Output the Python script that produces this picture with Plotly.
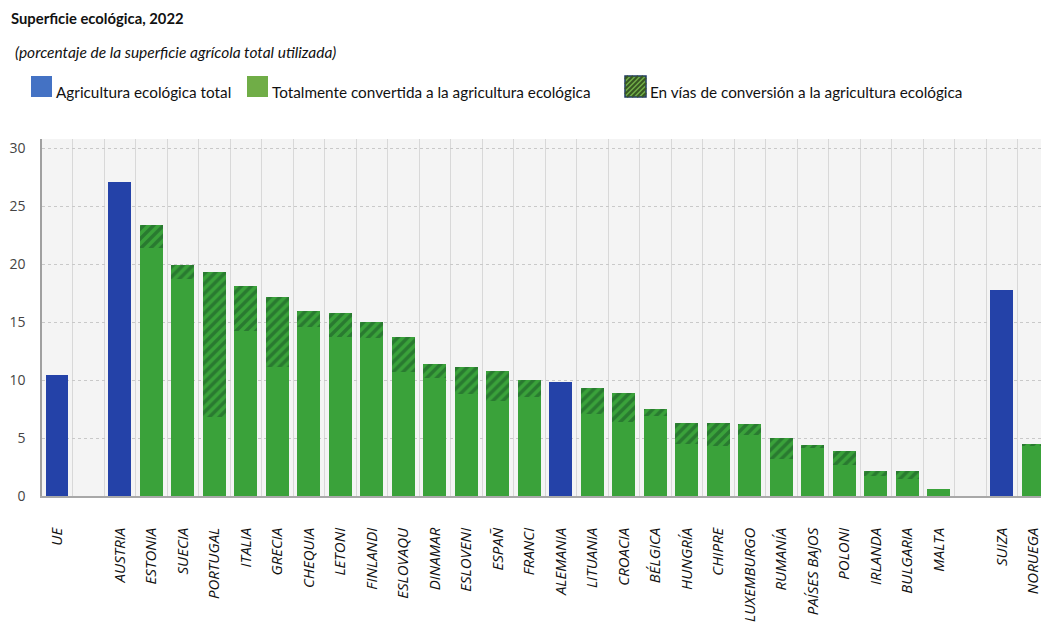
import plotly.graph_objects as go

# ---------------- data ----------------
countries = ["UE", "", "AUSTRIA", "ESTONIA", "SUECIA", "PORTUGAL", "ITALIA", "GRECIA",
             "CHEQUIA", "LETONI", "FINLANDI", "ESLOVAQU", "DINAMAR", "ESLOVENI", "ESPAÑ",
             "FRANCI", "ALEMANIA", "LITUANIA", "CROACIA", "BÉLGICA", "HUNGRÍA", "CHIPRE",
             "LUXEMBURGO", "RUMANÍA", "PAÍSES BAJOS", "POLONI", "IRLANDA", "BULGARIA",
             "MALTA", " ", "SUIZA", "NORUEGA"]

# total organic area (blue bars only)
total_organic = [10.4, None, 27.1, None, None, None, None, None,
                 None, None, None, None, None, None, None,
                 None, 9.8, None, None, None, None, None,
                 None, None, None, None, None, None,
                 None, None, 17.8, None]

# fully converted area
fully_converted = [None, None, None, 21.4, 18.7, 6.8, 14.2, 11.1,
                   14.6, 13.7, 13.6, 10.7, 10.2, 8.8, 8.2,
                   8.5, None, 7.1, 6.4, 6.9, 4.5, 4.3,
                   5.3, 3.2, 4.1, 2.7, 1.7, 1.5,
                   0.6, None, None, 4.3]

# under conversion area
in_conversion = [None, None, None, 2.0, 1.2, 12.5, 3.9, 6.1,
                 1.4, 2.1, 1.4, 3.0, 1.2, 2.3, 2.6,
                 1.5, None, 2.2, 2.5, 0.6, 1.8, 2.0,
                 0.9, 1.8, 0.3, 1.2, 0.5, 0.7,
                 0.0, None, None, 0.2]

title = "Superficie ecológica, 2022"
subtitle = "(porcentaje de la superficie agrícola total utilizada)"
legend_labels = ["Agricultura ecológica total",
                 "Totalmente convertida a la agricultura ecológica",
                 "En vías de conversión a la agricultura ecológica"]
y_ticks = [0, 5, 10, 15, 20, 25, 30]

# ---------------- styling ----------------
BLUE = "#2442a8"
GREEN = "#3aa23a"
HATCH = "#175226"
W, H = 1041, 626
ML, MR, MT, MB = 42, 0, 139, 130
PW, PH = W - ML - MR, H - MT - MB

positions = list(range(len(countries)))
bar_w = 0.73

fig = go.Figure()
fig.add_trace(go.Bar(x=positions, y=total_organic, width=bar_w, marker_color=BLUE,
                     marker_line_width=0, name=legend_labels[0]))
fig.add_trace(go.Bar(x=positions, y=fully_converted, width=bar_w, marker_color=GREEN,
                     marker_line_width=0, name=legend_labels[1]))
fig.add_trace(go.Bar(x=positions, y=in_conversion, width=bar_w,
                     marker=dict(color=GREEN, line_width=0,
                                 pattern=dict(shape="/", fgcolor=HATCH, bgcolor=GREEN,
                                              size=7, solidity=0.5)),
                     name=legend_labels[2]))


def px_x(px):
    return (px - ML) / PW


def px_y(py):
    return (H - MB - py) / PH


shapes = []
annotations = []

# title & subtitle
annotations.append(dict(text="<b>" + title + "</b>", x=px_x(9), y=px_y(18), xref="paper", yref="paper",
                        xanchor="left", yanchor="middle", showarrow=False,
                        font=dict(family="Lato", size=14.8, color="#111")))
annotations.append(dict(text="<i>" + subtitle + "</i>", x=px_x(13), y=px_y(52), xref="paper", yref="paper",
                        xanchor="left", yanchor="middle", showarrow=False,
                        font=dict(family="Lato", size=15.5, color="#111")))

# legend
legend_items = [(31, "#4472c4", False), (247, "#70ad47", False), (625, "#70ad47", True)]
for (x0, col, hatched), lab in zip(legend_items, legend_labels):
    y0, s = 76, 21
    shapes.append(dict(type="rect", xref="paper", yref="paper",
                       x0=px_x(x0), x1=px_x(x0 + s), y0=px_y(y0 + s), y1=px_y(y0),
                       fillcolor=col, line=dict(color="#1f3864" if hatched else col, width=1.5 if hatched else 0)))
    if hatched:
        for c in range(-18, 19, 5):
            u0, u1 = max(0, c), min(s, s + c)
            if u1 <= u0:
                continue
            shapes.append(dict(type="line", xref="paper", yref="paper",
                               x0=px_x(x0 + u0), y0=px_y(y0 + s - (u0 - c)),
                               x1=px_x(x0 + u1), y1=px_y(y0 + s - (u1 - c)),
                               line=dict(color="#375623", width=2)))
    annotations.append(dict(text=lab, x=px_x(x0 + s + 2), y=px_y(92), xref="paper", yref="paper",
                            xanchor="left", yanchor="middle", showarrow=False,
                            font=dict(family="Lato", size=15.3, color="#111")))

fig.update_layout(
    width=W, height=H,
    margin=dict(l=ML, r=MR, t=MT, b=MB, pad=0),
    paper_bgcolor="white", plot_bgcolor="#f4f4f4",
    barmode="stack", bargap=0, showlegend=False,
    shapes=shapes, annotations=annotations,
    xaxis=dict(range=[-0.476, 31.24], tickmode="array", tickvals=positions, ticktext=countries,
               tickangle=-90, showgrid=False, zeroline=False,
               ticks="outside", ticklen=24, tickcolor="rgba(0,0,0,0)",
               ticklabeloverflow="allow",
               tickfont=dict(family="Open Sans", size=15, color="#111", style="italic"),
               showline=True, linecolor="#a8a8a8", linewidth=1.5,
               minor=dict(tick0=0.5, dtick=1, showgrid=True, gridcolor="#d8d8d8", gridwidth=1, ticks="")),
    yaxis=dict(range=[0, 30.8], tickvals=y_ticks, showgrid=True, gridcolor="#c9c9c9", griddash="dot",
               gridwidth=1, zeroline=False, showline=True, linecolor="#a0a0a0", linewidth=1.5,
               ticks="", ticklabelstandoff=12,
               tickfont=dict(family="Open Sans", size=14, color="#444")),
)

fig.write_html("out.html")
